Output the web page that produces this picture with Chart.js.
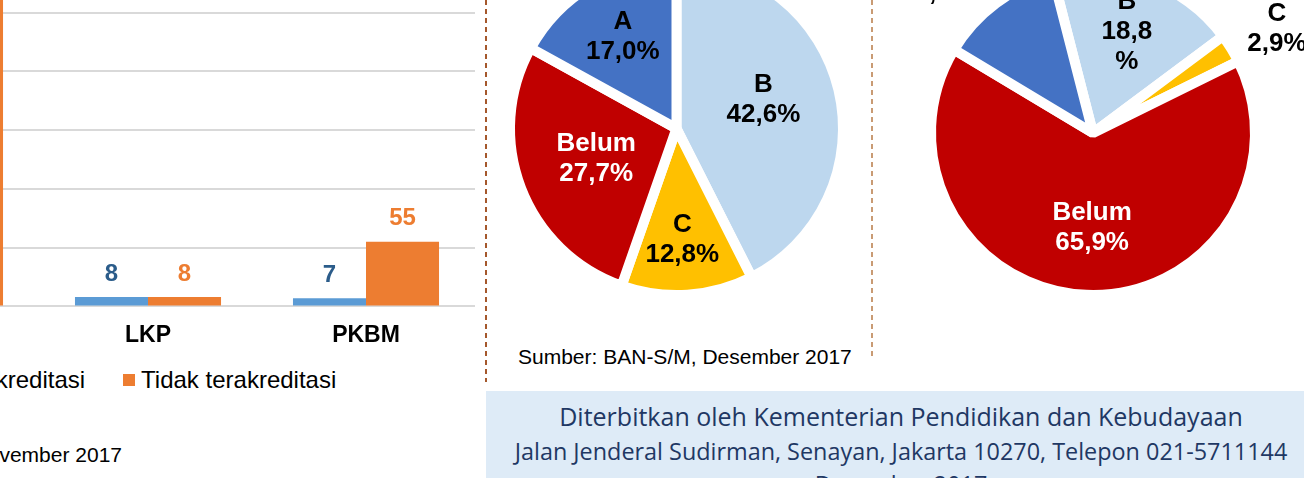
<!DOCTYPE html>
<html lang="id">
<head>
<meta charset="UTF-8">
<title>Akreditasi</title>
<script src="https://cdn.jsdelivr.net/npm/chart.js"></script>
<style>
  body { margin: 0; background: #fff; font-family: 'Liberation Sans', Arial, sans-serif; }
  #page { position: relative; width: 1304px; height: 478px; overflow: hidden; }
  .abs { position: absolute; }
  .dots { position: absolute; width: 2px; top: 0; }
  #legend { display: flex; align-items: center; font-size: 24px; line-height: 28px; color: #000; white-space: nowrap; }
  #legend span.sq { display: inline-block; width: 12px; height: 12px; margin-right: 6px; }
  #legend .item { display: flex; align-items: center; margin-right: 38px; }
  .src { font-size: 21px; line-height: 24px; color: #000; white-space: nowrap; }
  #footer { left: 486px; top: 391px; width: 830px; height: 100px; background: #DEEBF7; color: #1F3864;
            font-family: 'Open Sans', sans-serif; text-align: center; }
  #footer div { position: absolute; left: 0; right: 0; white-space: nowrap; }
</style>
</head>
<body>
<div id="page">
  <div class="abs" style="left:-179px; top:-50px; width:654px; height:414px;"><canvas id="bars"></canvas></div>
  <div id="legend" class="abs" style="left:-69px; top:366px;"></div>
  <div class="abs src" style="right:1182px; top:443px;">Sumber: BAN-PAUD dan PNF, November 2017</div>
  <div class="dots" style="left:485px; height:382px; background: repeating-linear-gradient(to bottom, #A5582C 0 5px, transparent 5px 9px);"></div>

  <div class="abs" style="left:500px; top:-60px; width:353px; height:377px;"><canvas id="pieSM"></canvas></div>
  <div class="abs src" style="left:518px; top:345px;">Sumber: BAN-S/M, Desember 2017</div>
  <div class="dots" style="left:871px; height:358px; background: repeating-linear-gradient(to bottom, #C99B74 0 5px, transparent 5px 9px);"></div>

  <div class="abs" style="left:873px; top:-100px; width:440px; height:466px;"><canvas id="pieR"></canvas></div>

  <div id="footer" class="abs">
    <div style="top:9px; font-size:25px; line-height:32px;">Diterbitkan oleh Kementerian Pendidikan dan Kebudayaan</div>
    <div style="top:45px; font-size:23.4px; line-height:30px;">Jalan Jenderal Sudirman, Senayan, Jakarta 10270, Telepon 021-5711144</div>
    <div style="top:78px; font-size:23.4px; line-height:30px;">Desember 2017</div>
  </div>
</div>

<script>
// bar chart data
const barCategories = ['PAUD', 'LKP', 'PKBM'];
const seriesNames = ['Terakreditasi', 'Tidak terakreditasi'];
const accredited = [30, 8, 7];
const notAccredited = [290, 8, 55];

// pie data (order: clockwise from the first slice)
const pieCategories = ['B', 'C', 'Belum', 'A'];
const pieMiddle = [42.6, 12.8, 27.7, 17.0];
const pieRight = [18.8, 2.9, 65.9, 12.4];

const barColors = ['#5B9BD5', '#ED7D31'];
const barLabelColors = ['#2B5C8A', '#ED7D31'];
const pieColors = ['#BDD7EE', '#FFC000', '#C00000', '#4472C4'];
const pieTextColors = ['#000', '#000', '#fff', '#000'];
const FONT = '"Liberation Sans", Arial, sans-serif';

// html legend
const legend = document.getElementById('legend');
seriesNames.forEach((name, i) => {
  const it = document.createElement('div');
  it.className = 'item';
  it.innerHTML = '<span class="sq" style="background:' + barColors[i] + '"></span>' + name;
  legend.appendChild(it);
});

const barLabels = {
  id: 'barLabels',
  afterDatasetsDraw(chart) {
    const ctx = chart.ctx;
    ctx.save();
    ctx.font = 'bold 24px ' + FONT;
    ctx.textAlign = 'center';
    ctx.textBaseline = 'middle';
    chart.data.datasets.forEach((ds, i) => {
      ctx.fillStyle = barLabelColors[i];
      chart.getDatasetMeta(i).data.forEach((bar, j) => {
        ctx.fillText(ds.data[j], bar.x, bar.y - 23);
      });
    });
    ctx.restore();
  }
};

new Chart(document.getElementById('bars'), {
  type: 'bar',
  data: {
    labels: barCategories,
    datasets: [
      { label: seriesNames[0], data: accredited, backgroundColor: barColors[0] },
      { label: seriesNames[1], data: notAccredited, backgroundColor: barColors[1] }
    ]
  },
  options: {
    responsive: true,
    maintainAspectRatio: false,
    animation: false,
    layout: { padding: { top: 4, left: 0, right: 0, bottom: 0 } },
    datasets: { bar: { categoryPercentage: 0.67, barPercentage: 1 } },
    plugins: { legend: { display: false }, tooltip: { enabled: false } },
    scales: {
      x: {
        grid: { display: false, drawTicks: false },
        border: { display: false },
        ticks: { color: '#000', font: { family: FONT, size: 23, weight: 'bold' }, padding: 15 }
      },
      y: {
        min: 0, max: 300,
        ticks: { display: false, stepSize: 50 },
        grid: { color: '#D9D9D9', lineWidth: 2, drawTicks: false },
        border: { display: false }
      }
    }
  },
  plugins: [barLabels]
});

function fmt(v) { return v.toFixed(1).replace('.', ','); }

const pieLabels = {
  id: 'pieLabels',
  afterDatasetsDraw(chart, args, opts) {
    const ctx = chart.ctx;
    const meta = chart.getDatasetMeta(0);
    const vals = chart.data.datasets[0].data;
    ctx.save();
    ctx.font = 'bold 26px ' + FONT;
    ctx.textAlign = 'center';
    ctx.textBaseline = 'middle';
    meta.data.forEach((arc, i) => {
      const p = opts.place[i];
      const mid = (arc.startAngle + arc.endAngle) / 2 + p[1] * Math.PI / 180;
      const r = arc.outerRadius * p[0];
      const x = arc.x + Math.cos(mid) * r;
      const y = arc.y + Math.sin(mid) * r;
      const lines = opts.split[i]
        ? [chart.data.labels[i], fmt(vals[i]), '%']
        : [chart.data.labels[i], fmt(vals[i]) + '%'];
      ctx.fillStyle = pieTextColors[i];
      lines.forEach((t, k) => ctx.fillText(t, x, y + (k - (lines.length - 1) / 2) * 30));
    });
    ctx.restore();
  }
};

function makePie(id, values, radius, rotation, place, split) {
  new Chart(document.getElementById(id), {
    type: 'pie',
    data: {
      labels: pieCategories,
      datasets: [{ data: values, backgroundColor: pieColors, borderColor: '#fff', borderWidth: 10 }]
    },
    options: {
      responsive: true,
      maintainAspectRatio: false,
      animation: false,
      radius: radius,
      rotation: rotation,
      plugins: {
        legend: { display: false },
        tooltip: { enabled: false },
        pieLabels: { place: place, split: split }
      }
    },
    plugins: [pieLabels]
  });
}

makePie('pieSM', pieMiddle, 166.5, 0,
  [[0.55, -5], [0.67, 0.8], [0.515, 0.5], [0.64, 0.3]], [false, false, false, false]);
makePie('pieR', pieRight, 162, -14.4,
  [[0.66, -1], [1.305, 2], [0.586, -1.8], [1.36, -8.4]], [true, false, false, false]);
</script>
</body>
</html>
